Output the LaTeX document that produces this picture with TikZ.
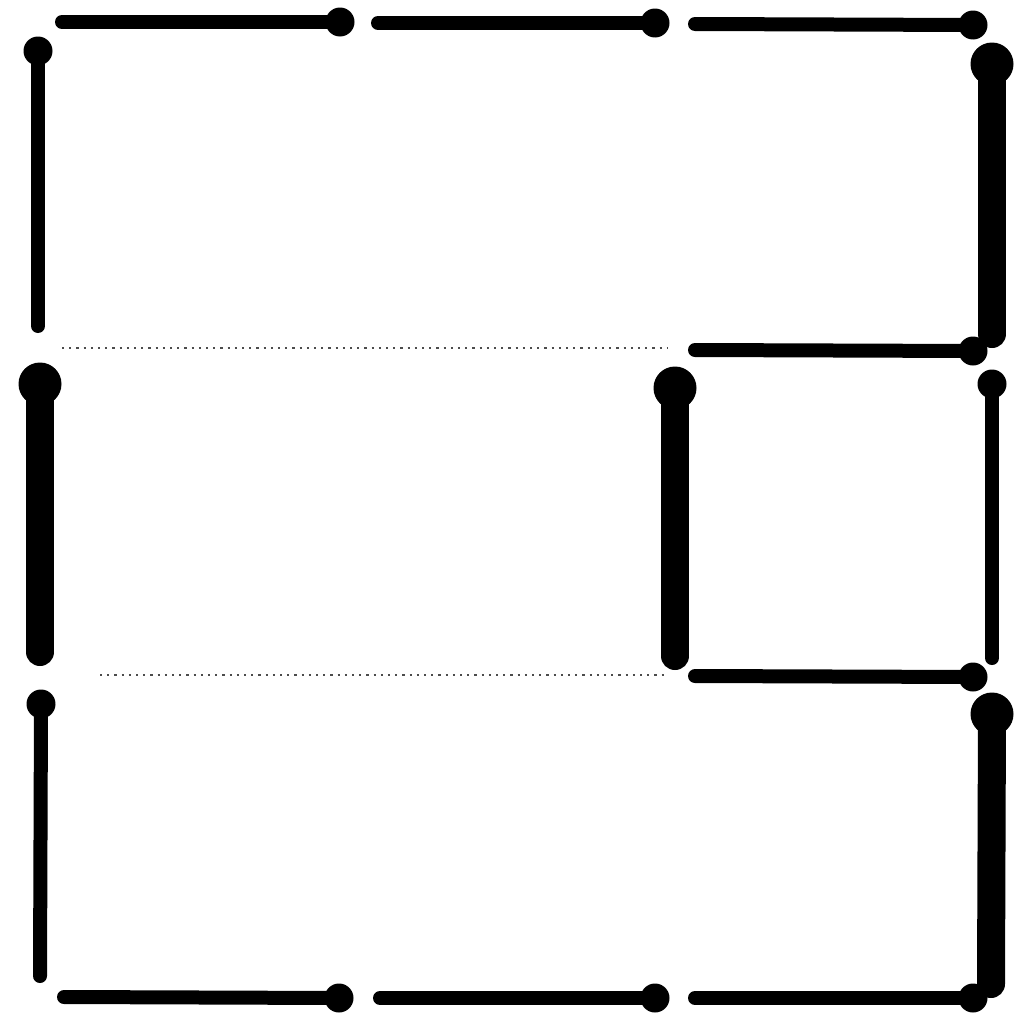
\documentclass[tikz,border=0pt]{standalone}
\begin{document}
\begin{tikzpicture}[x=1pt,y=-1pt,
  thin seg/.style={line width=14pt,line cap=round,black},
  thick seg/.style={line width=28pt,line cap=round,black},
  small dot/.style={circle,fill=black,inner sep=0pt,minimum size=29pt},
  big dot/.style={circle,fill=black,inner sep=0pt,minimum size=43pt},
  faint/.style={line width=2.4pt,black!70,dash pattern=on 2.2pt off 5pt}]
\useasboundingbox[fill=white] (0,0) rectangle (1018,1017);
% top row
\coordinate (h1s) at (62,22);  \node[small dot] (h1e) at (340,22) {};
\coordinate (h2s) at (378,23); \node[small dot] (h2e) at (655,23) {};
\coordinate (h3s) at (695,24); \node[small dot] (h3e) at (973,25) {};
\draw[thin seg] (h1s) -- (h1e.center);
\draw[thin seg] (h2s) -- (h2e.center);
\draw[thin seg] (h3s) -- (h3e.center);
% middle rows
\coordinate (h4s) at (695,350); \node[small dot] (h4e) at (973,351) {};
\draw[thin seg] (h4s) -- (h4e.center);
\coordinate (h5s) at (695,676); \node[small dot] (h5e) at (973,677) {};
\draw[thin seg] (h5s) -- (h5e.center);
% bottom row
\coordinate (h6s) at (64,997);  \node[small dot] (h6e) at (339,998) {};
\coordinate (h7s) at (380,998); \node[small dot] (h7e) at (655,998) {};
\coordinate (h8s) at (695,998); \node[small dot] (h8e) at (973,998) {};
\draw[thin seg] (h6s) -- (h6e.center);
\draw[thin seg] (h7s) -- (h7e.center);
\draw[thin seg] (h8s) -- (h8e.center);
% verticals
\node[small dot] (v1t) at (38,51) {};  \coordinate (v1b) at (38,326);
\draw[thin seg] (v1t.center) -- (v1b);
\node[big dot] (v2t) at (992,64) {};   \coordinate (v2b) at (992,334);
\draw[thick seg] (v2t.center) -- (v2b);
\node[big dot] (v3t) at (40,384) {};   \coordinate (v3b) at (40,652);
\draw[thick seg] (v3t.center) -- (v3b);
\node[big dot] (v4t) at (675,388) {};  \coordinate (v4b) at (675,656);
\draw[thick seg] (v4t.center) -- (v4b);
\node[small dot] (v5t) at (992,384) {}; \coordinate (v5b) at (992,658);
\draw[thin seg] (v5t.center) -- (v5b);
\node[small dot] (v6t) at (41,704) {};  \coordinate (v6b) at (40,976);
\draw[thin seg] (v6t.center) -- (v6b);
\node[big dot] (v7t) at (992,714) {};  \coordinate (v7b) at (991,984);
\draw[thick seg] (v7t.center) -- (v7b);
% faint dotted lines
\coordinate (d1s) at (62,348); \coordinate (d1e) at (668,348);
\draw[faint] (d1s) -- (d1e);
\coordinate (d2s) at (100,675); \coordinate (d2e) at (668,675);
\draw[faint] (d2s) -- (d2e);
\end{tikzpicture}
\end{document}
